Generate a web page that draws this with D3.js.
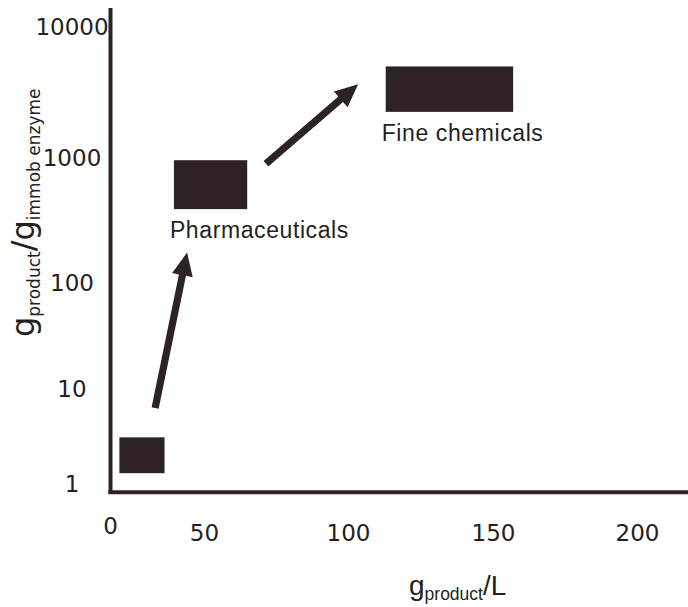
<!DOCTYPE html>
<html>
<head>
<meta charset="utf-8">
<script src="https://cdn.jsdelivr.net/npm/d3@7"></script>
<style>
  html, body { margin: 0; padding: 0; background: #ffffff; }
  svg { display: block; }
</style>
</head>
<body>
<svg id="chart" width="688" height="607"></svg>
<script>
// ---- data ----
const xTickValues = [0, 50, 100, 150, 200];
const yTickValues = [1, 10, 100, 1000, 10000];
const boxLabels = ["", "Pharmaceuticals", "Fine chemicals"];
const boxX0 = [5, 34, 113];
const boxX1 = [29, 65, 157];
const boxY0 = [1.3, 390, 2250];
const boxY1 = [3.1, 960, 5000];
const arrowX0 = [24, 71.5];
const arrowY0 = [6.3, 900];
const arrowX1 = [41, 103.5];
const arrowY1 = [175, 3650];

// ---- drawing ----
const markColor = "#2d2224";
const textColor = "#231f20";
const svg = d3.select("#chart");

const x = d3.scaleLinear().domain(xTickValues).range([110, 204, 348, 493, 637]);
const y = d3.scaleLog().domain(yTickValues).range([484, 389, 283, 158, 27]);

// y axis tick labels
const yAxis = svg.append("g").attr("transform", "translate(110,0)")
  .call(d3.axisLeft(y).tickValues(yTickValues).tickFormat(d3.format("d")).tickSize(0).tickSizeOuter(0));
yAxis.select(".domain").remove();
yAxis.selectAll("text")
  .attr("x", -38).attr("text-anchor", "middle")
  .style("font-family", "'DejaVu Sans'").style("font-size", "23px").attr("fill", textColor);

// x axis tick labels
const xAxis = svg.append("g").attr("transform", "translate(0,492)")
  .call(d3.axisBottom(x).tickValues(xTickValues).tickFormat(d3.format("d")).tickSize(0).tickSizeOuter(0));
xAxis.select(".domain").remove();
xAxis.selectAll("text")
  .attr("y", (d, i) => i === 0 ? 34 : 41).attr("dy", "0.35em")
  .style("font-family", "'DejaVu Sans'").style("font-size", "23px").attr("fill", textColor);

// axis lines
svg.append("line").attr("x1", 110.5).attr("x2", 110.5).attr("y1", 8).attr("y2", 494)
  .attr("stroke", markColor).attr("stroke-width", 4);
svg.append("line").attr("x1", 108.5).attr("x2", 688).attr("y1", 492.3).attr("y2", 492.3)
  .attr("stroke", markColor).attr("stroke-width", 4);

// boxes
const boxes = boxLabels.map((lab, i) => ({ lab, x0: boxX0[i], x1: boxX1[i], y0: boxY0[i], y1: boxY1[i] }));
svg.append("g").selectAll("rect").data(boxes).join("rect")
  .attr("x", d => x(d.x0))
  .attr("y", d => y(d.y1))
  .attr("width", d => x(d.x1) - x(d.x0))
  .attr("height", d => y(d.y0) - y(d.y1))
  .attr("fill", markColor);

svg.append("g").selectAll("text").data(boxes.filter(d => d.lab)).join("text")
  .attr("x", d => x(d.x0) - 4)
  .attr("y", d => y(d.y0) + 29)
  .text(d => d.lab)
  .style("font-family", "'Liberation Sans', Arial, sans-serif")
  .style("font-size", "23px")
  .style("letter-spacing", "0.6px")
  .attr("fill", textColor);

// arrows
const arrows = arrowX0.map((v, i) => ({ x0: v, y0: arrowY0[i], x1: arrowX1[i], y1: arrowY1[i] }));
function arrowPath(d) {
  const ax = x(d.x0), ay = y(d.y0), bx = x(d.x1), by = y(d.y1);
  const len = Math.hypot(bx - ax, by - ay);
  const ux = (bx - ax) / len, uy = (by - ay) / len;
  const nx = -uy, ny = ux;
  const sw = 3.6, hw = 10.5, hl = 23;
  const cx = bx - ux * hl, cy = by - uy * hl;
  const pts = [
    [ax + nx * sw, ay + ny * sw],
    [cx + nx * sw, cy + ny * sw],
    [cx + nx * hw, cy + ny * hw],
    [bx, by],
    [cx - nx * hw, cy - ny * hw],
    [cx - nx * sw, cy - ny * sw],
    [ax - nx * sw, ay - ny * sw]
  ];
  return "M" + pts.map(p => p.join(",")).join("L") + "Z";
}
svg.append("g").selectAll("path").data(arrows).join("path")
  .attr("d", arrowPath).attr("fill", markColor);

// y axis title
const yt = svg.append("text")
  .attr("transform", "translate(34,337) rotate(-90)")
  .attr("text-anchor", "start")
  .style("font-family", "'DejaVu Sans'")
  .attr("fill", textColor);
yt.append("tspan").style("font-size", "32px").text("g");
yt.append("tspan").style("font-size", "17px").attr("dy", 6).text("product");
yt.append("tspan").style("font-size", "32px").attr("dy", -6).text("/");
yt.append("tspan").style("font-size", "32px").text("g");
yt.append("tspan").style("font-size", "17px").attr("dy", 6).text("immob enzyme");

// x axis title
const xt = svg.append("text")
  .attr("x", 409).attr("y", 595)
  .style("font-family", "'Liberation Sans', Arial, sans-serif")
  .attr("fill", textColor);
xt.append("tspan").style("font-size", "28px").text("g");
xt.append("tspan").style("font-size", "17.5px").attr("dy", 5).text("product");
xt.append("tspan").style("font-size", "28px").attr("dy", -5).text("/L");
</script>
</body>
</html>
